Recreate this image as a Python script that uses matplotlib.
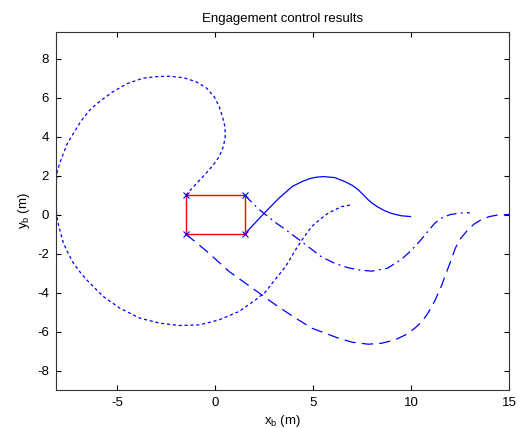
import numpy as np
import matplotlib
matplotlib.use("Agg")
import matplotlib.pyplot as plt

plt.rcParams['font.family'] = ['Liberation Sans', 'DejaVu Sans']
plt.rcParams['axes.unicode_minus'] = False

# rectangle (engagement box)
box_x = [-1.5, 1.5, 1.5, -1.5, -1.5]
box_y = [1.0, 1.0, -1.0, -1.0, 1.0]

# solid trajectory
solid_x = [1.5, 2.5, 3.25, 3.93, 4.4, 4.77, 5.15, 5.53, 6.1, 6.63, 7.0, 7.31, 7.82, 8.05, 8.32,
           8.65, 9.0, 9.5, 9.97]
solid_y = [-1.0, 0.07, 0.84, 1.44, 1.68, 1.83, 1.92, 1.95, 1.9, 1.69, 1.5, 1.27, 0.75, 0.56, 0.38,
           0.2, 0.06, -0.06, -0.1]

# dash-dot trajectory
dashdot_x = [1.5, 2.2, 3.0, 3.7, 4.3, 5.4, 6.1, 6.8, 7.4, 8.0, 8.8, 9.5, 10.0, 10.5, 11.2,
             11.6, 12.0, 12.5, 12.9, 13.0]
dashdot_y = [1.0, 0.3, -0.35, -0.85, -1.3, -2.15, -2.5, -2.73, -2.85, -2.9, -2.75, -2.3, -1.85,
             -1.3, -0.45, -0.15, 0.0, 0.08, 0.1, 0.07]

# dotted trajectory
dotted_x = [-1.5, -1.0, -0.47, -0.1, 0.2, 0.42, 0.51, 0.5, 0.37, 0.2, -0.05, -0.45, -0.98, -1.6,
            -2.34, -3.0, -3.69, -4.5, -5.21, -5.85, -6.4, -6.85, -7.24, -7.55, -7.75, -7.95, -8.09,
            -8.13, -8.1, -8.0, -7.75, -7.5, -7.24, -6.9, -6.56, -5.72, -4.87, -3.86, -2.84,
            -1.83, -0.81, 0.2, 1.22, 2.07, 2.55, 2.91, 3.59, 4.1, 4.5, 4.93, 5.4, 5.79, 6.45, 6.95]
dotted_y = [1.0, 1.55, 2.12, 2.55, 2.97, 3.5, 4.0, 4.5, 5.03, 5.55, 6.05, 6.5, 6.82, 7.02,
            7.1, 7.08, 7.0, 6.72, 6.31, 5.85, 5.37, 4.8, 4.17, 3.65, 3.15, 2.6, 2.12,
            1.0, 0.0, -0.55, -1.47, -2.0, -2.49, -2.95, -3.35, -4.2, -4.8, -5.31, -5.57,
            -5.69, -5.66, -5.4, -4.97, -4.37, -3.98, -3.52, -2.67, -1.81, -1.2, -0.61, -0.2, 0.09,
            0.41, 0.5]

# dashed trajectory
dashed_x = [-1.5, -0.47, 0.71, 1.89, 3.08, 4.1, 4.94, 6.29, 7.0, 7.82, 8.5, 9.17, 9.7, 10.19,
            10.55, 10.86, 11.2, 11.54, 11.85, 12.05, 12.25, 12.47, 12.9, 13.2, 13.57, 14.0,
            14.42, 15.2]
dashed_y = [-1.0, -1.85, -2.92, -3.77, -4.63, -5.31, -5.83, -6.34, -6.55, -6.65, -6.6, -6.43,
            -6.18, -5.83, -5.5, -5.06, -4.45, -3.69, -2.85, -2.32, -1.75, -1.3, -0.78, -0.5,
            -0.27, -0.1, -0.02, 0.02]

corner_x = [-1.5, 1.5, 1.5, -1.5]
corner_y = [1.0, 1.0, -1.0, -1.0]

fig = plt.figure(figsize=(5.18, 4.28), dpi=100)
ax = fig.add_axes([0.1081, 0.0888, 0.8745, 0.8364])

blue = (0.0, 0.0, 1.0)
lw = 0.9
ax.plot(solid_x, solid_y, color=blue, lw=lw, linestyle="-")
ax.plot(dashdot_x, dashdot_y, color=blue, lw=lw, linestyle=(0, (8, 3.5, 1.5, 3.5)))
ax.plot(dotted_x, dotted_y, color=blue, lw=lw, linestyle=(0, (2.5, 2.2)))
ax.plot(dashed_x, dashed_y, color=blue, lw=lw, linestyle=(0, (9, 5)))
ax.plot(box_x, box_y, color="red", lw=1.0)
ax.plot(corner_x, corner_y, linestyle="none", marker="x", color=blue, markersize=4, mew=0.8)

ax.set_xlim(-8.13, 15)
ax.set_ylim(-9.0, 9.37)
ax.set_xticks([-5, 0, 5, 10, 15])
ax.set_yticks([-8, -6, -4, -2, 0, 2, 4, 6, 8])
ax.tick_params(direction="in", length=3.5, width=0.8, labelsize=9.5, top=True, right=True, pad=5)
for s in ax.spines.values():
    s.set_linewidth(0.8)
    s.set_color("#333333")

ax.set_title("Engagement control results", fontsize=9.5, pad=7)
ax.set_xlabel("x$_\\mathregular{b}$ (m)", fontsize=9.5, labelpad=3)
ax.set_ylabel("y$_\\mathregular{b}$ (m)", fontsize=9.5, labelpad=4)

fig.savefig("out.png", dpi=100)
